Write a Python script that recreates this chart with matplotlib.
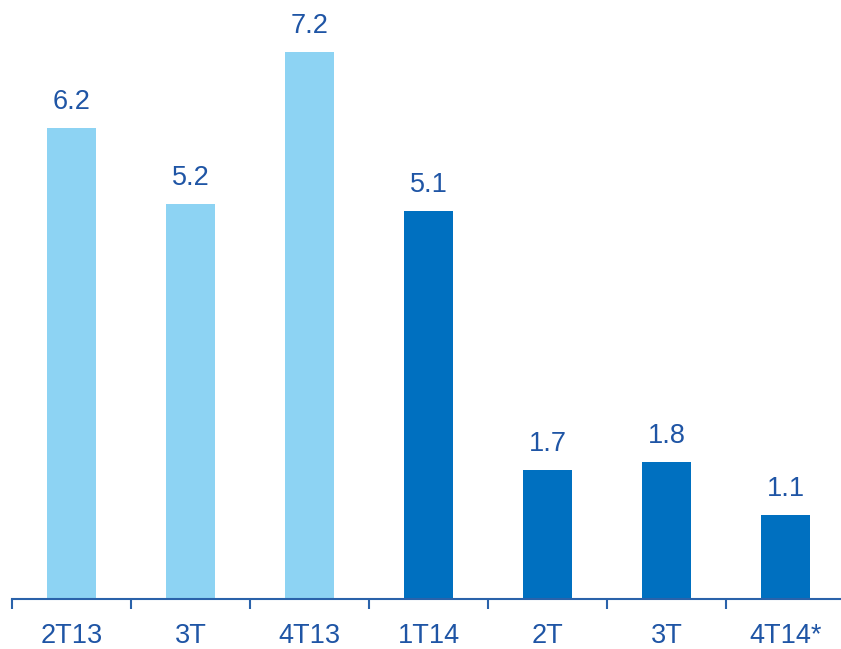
import matplotlib
matplotlib.use("Agg")
from matplotlib import pyplot as plt

# quarterly values
categories = ["2T13", "3T", "4T13", "1T14", "2T", "3T", "4T14*"]
values = [6.2, 5.2, 7.2, 5.1, 1.7, 1.8, 1.1]
bar_colors = ["#8DD3F3"] * 3 + ["#0070C0"] * 4

text_color = "#1F55A5"
axis_color = "#2A62AA"

plt.rcParams['font.family'] = ['Liberation Sans Narrow', 'Liberation Sans', 'DejaVu Sans']

W, H = 841, 649
fig = plt.figure(figsize=(W / 100, H / 100), dpi=100)
# axes runs a bit past the right edge, one category = 119 px
left, base, cat_w = 12, 599, 119
ymax = 7.8
px_per_unit = 76
ax = fig.add_axes([left / W, (H - base) / H, cat_w * 7 / W, ymax * px_per_unit / H])

x = range(len(categories))
bars = ax.bar(x, values, width=0.41, color=bar_colors, zorder=2)

for i, v in zip(x, values):
    ax.text(i, v + 0.17, "%.1f" % v, ha="center", va="bottom",
            fontsize=19.5, color=text_color)

ax.set_xlim(-0.5, len(categories) - 0.5)
ax.set_ylim(0, ymax)

for s in ["top", "right", "left"]:
    ax.spines[s].set_visible(False)
ax.spines["bottom"].set_color(axis_color)
ax.spines["bottom"].set_linewidth(1.5)
ax.set_yticks([])

# ticks sit between categories, labels sit under the bars
ax.set_xticks([i - 0.5 for i in range(len(categories) + 1)])
ax.set_xticklabels([])
ax.tick_params(axis="x", direction="out", length=7, width=1.5, color=axis_color)
ax.set_xticks(list(x), minor=True)
ax.set_xticklabels(categories, minor=True, fontsize=19.5, color=text_color)
ax.tick_params(axis="x", which="minor", length=0, pad=17)

fig.savefig("out.png", dpi=100)
